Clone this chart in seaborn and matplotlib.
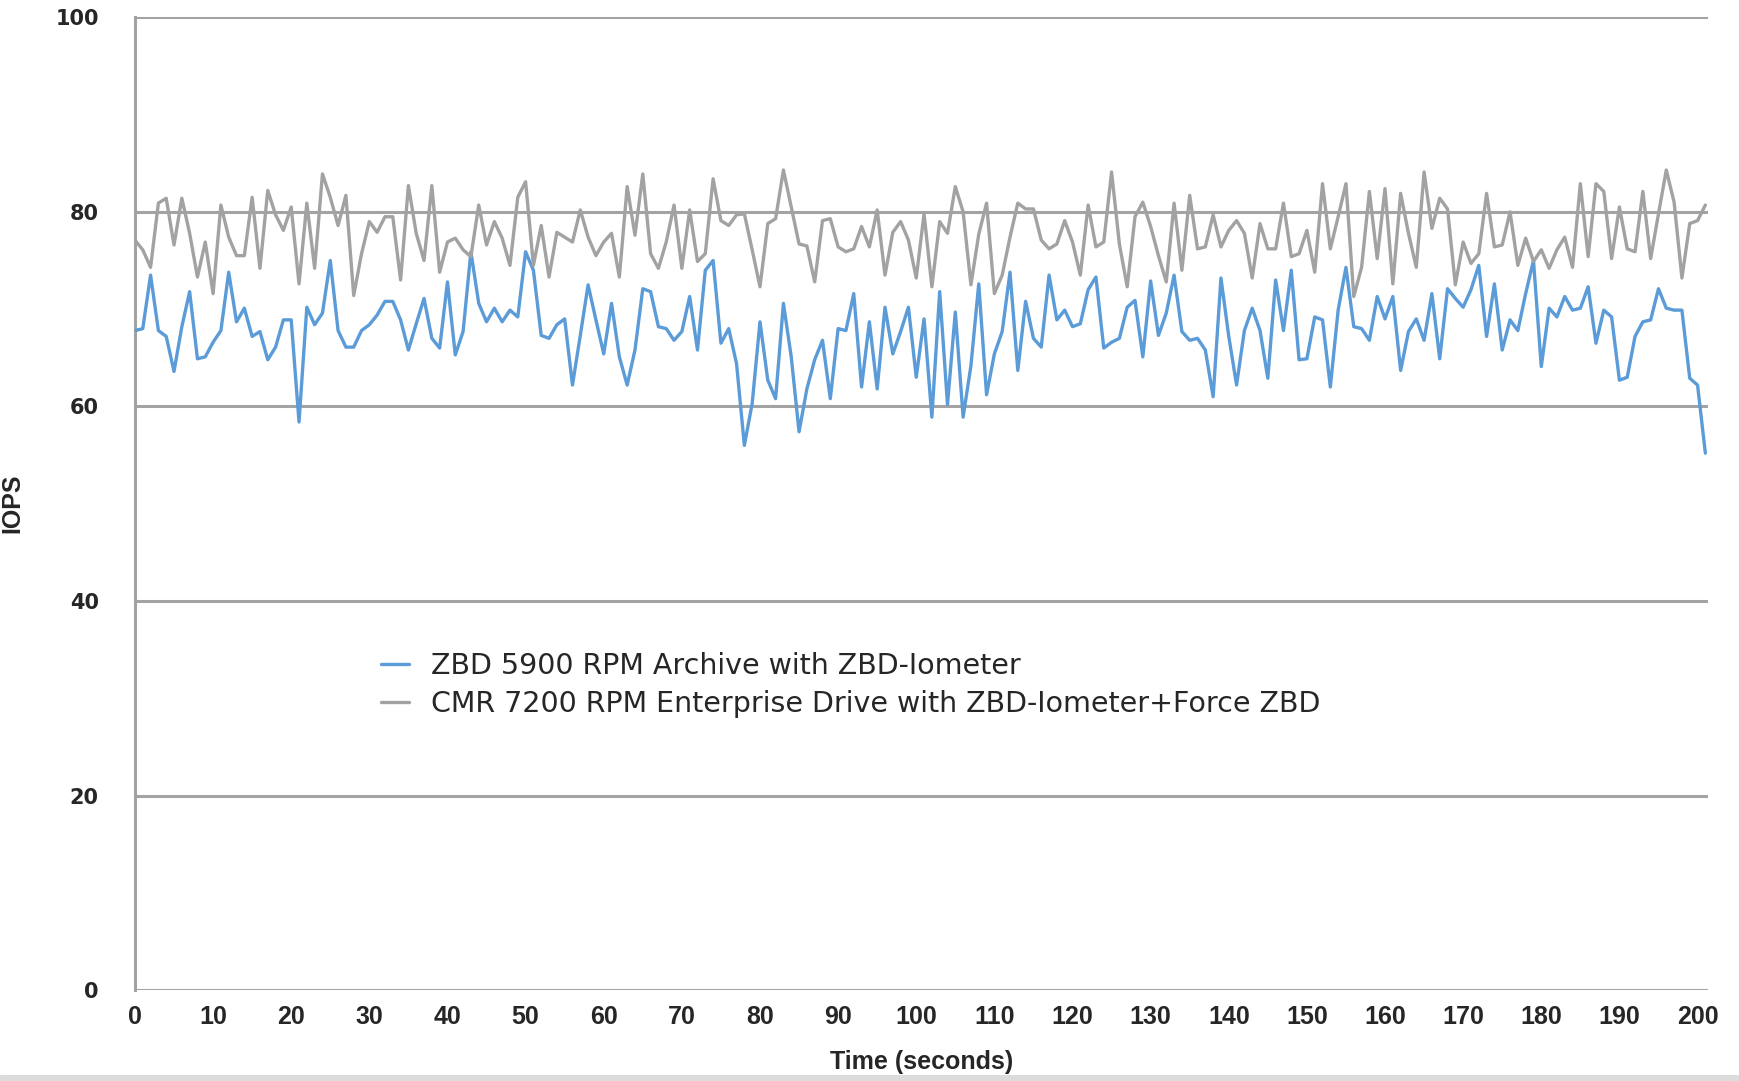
import numpy as np
import pandas as pd
import matplotlib
matplotlib.use("Agg")
import matplotlib.pyplot as plt
import seaborn as sns

# IOPS per second (t = 0 .. 201 s)
zbd_archive = [
    67.8, 68.0, 73.5, 67.8, 67.2, 63.6, 68.2, 71.8, 64.9, 65.1, 66.6, 67.8, 73.8, 68.7, 70.1, 67.2,
    67.7, 64.8, 66.1, 68.9, 68.9, 58.4, 70.2, 68.4, 69.6, 75.0, 67.8, 66.1, 66.1, 67.8, 68.4, 69.4,
    70.8, 70.8, 68.9, 65.8, 68.5, 71.1, 67.0, 66.0, 72.8, 65.3, 67.7, 75.9, 70.6, 68.7, 70.1, 68.7,
    69.9, 69.2, 75.9, 74.0, 67.3, 67.0, 68.4, 69.0, 62.2, 67.3, 72.5, 68.9, 65.4, 70.6, 65.1, 62.2,
    65.8, 72.1, 71.8, 68.2, 68.0, 66.8, 67.7, 71.3, 65.8, 74.0, 75.0, 66.5, 68.0, 64.4, 56.0, 60.3,
    68.7, 62.7, 60.8, 70.6, 65.1, 57.4, 61.8, 64.8, 66.8, 60.8, 68.0, 67.8, 71.6, 62.0, 68.7, 61.8,
    70.2, 65.4, 67.7, 70.2, 63.0, 69.0, 58.9, 71.8, 60.2, 69.7, 58.9, 64.2, 72.6, 61.2, 65.4, 67.7,
    73.8, 63.7, 70.8, 67.0, 66.1, 73.5, 68.9, 69.9, 68.2, 68.5, 72.0, 73.3, 66.0, 66.6, 67.0, 70.2,
    70.9, 65.1, 72.9, 67.3, 69.6, 73.5, 67.7, 66.8, 67.0, 65.8, 61.0, 73.2, 67.2, 62.2, 67.8, 70.1,
    67.8, 62.9, 73.0, 67.8, 74.0, 64.8, 64.9, 69.2, 68.9, 62.0, 69.9, 74.3, 68.2, 68.0, 66.8, 71.3,
    69.0, 71.3, 63.7, 67.7, 69.0, 66.8, 71.6, 64.9, 72.1, 71.1, 70.2, 72.0, 74.5, 67.2, 72.6, 65.8,
    68.9, 67.8, 71.6, 75.0, 64.1, 70.1, 69.2, 71.3, 69.9, 70.1, 72.3, 66.5, 69.9, 69.2, 62.7, 63.0,
    67.2, 68.7, 68.9, 72.1, 70.1, 69.9, 69.9, 62.9, 62.2, 55.2,
]

cmr_enterprise = [
    77.1, 76.1, 74.3, 80.9, 81.4, 76.6, 81.4, 77.8, 73.3, 76.9, 71.6, 80.7, 77.4, 75.5, 75.5, 81.5,
    74.2, 82.2, 79.7, 78.1, 80.5, 72.6, 80.9, 74.2, 83.9, 81.5, 78.6, 81.7, 71.4, 75.7, 79.0, 77.9,
    79.5, 79.5, 73.0, 82.7, 77.8, 75.0, 82.7, 73.8, 76.9, 77.3, 76.1, 75.4, 80.7, 76.6, 79.0, 77.3,
    74.5, 81.5, 83.1, 74.5, 78.6, 73.3, 77.9, 77.4, 76.9, 80.2, 77.4, 75.5, 76.9, 77.8, 73.3, 82.6,
    77.6, 83.9, 75.7, 74.2, 76.9, 80.7, 74.2, 80.2, 74.9, 75.7, 83.4, 79.1, 78.6, 79.7, 79.8, 76.1,
    72.3, 78.8, 79.3, 84.3, 80.5, 76.7, 76.5, 72.8, 79.1, 79.3, 76.4, 75.9, 76.2, 78.5, 76.4, 80.2,
    73.5, 77.9, 79.0, 77.1, 73.2, 79.8, 72.3, 79.0, 77.8, 82.6, 80.0, 72.5, 77.7, 80.9, 71.6, 73.5,
    77.4, 80.9, 80.3, 80.3, 77.1, 76.2, 76.7, 79.1, 76.9, 73.5, 80.7, 76.4, 76.9, 84.1, 76.7, 72.3,
    79.5, 81.0, 78.5, 75.5, 72.8, 80.9, 74.0, 81.7, 76.2, 76.4, 79.7, 76.4, 78.1, 79.1, 77.8, 73.2,
    78.8, 76.2, 76.2, 80.9, 75.4, 75.7, 78.1, 73.8, 82.9, 76.2, 79.5, 82.9, 71.3, 74.3, 82.1, 75.2,
    82.4, 72.6, 81.9, 77.8, 74.3, 84.1, 78.3, 81.4, 80.3, 72.5, 76.9, 74.7, 75.7, 81.9, 76.4, 76.6,
    80.0, 74.5, 77.3, 74.9, 76.1, 74.2, 76.1, 77.4, 74.3, 82.9, 75.4, 82.9, 82.1, 75.2, 80.5, 76.2,
    75.9, 82.1, 75.2, 79.8, 84.3, 81.0, 73.2, 78.8, 79.1, 80.7,
]

time_s = list(range(len(zbd_archive)))
series_names = [
    "ZBD 5900 RPM Archive with ZBD-Iometer",
    "CMR 7200 RPM Enterprise Drive with ZBD-Iometer+Force ZBD",
]
y_ticks = [0, 20, 40, 60, 80, 100]
x_ticks = list(range(0, 201, 10))

df = pd.concat([
    pd.DataFrame({"time": time_s, "iops": zbd_archive, "series": series_names[0]}),
    pd.DataFrame({"time": time_s, "iops": cmr_enterprise, "series": series_names[1]}),
])

sns.set_style("white")
plt.rcParams["font.family"] = ["DejaVu Sans"]

fig = plt.figure(figsize=(17.39, 10.81), dpi=100)
ax = fig.add_axes([0.0776, 0.084, 0.9044, 0.9])

grid_color = "#a3a3a3"
for y in y_ticks:
    ax.axhline(y, color=grid_color, linewidth=2.2, zorder=1)

sns.lineplot(
    data=df, x="time", y="iops", hue="series",
    palette=["#5b9bd8", "#a2a2a2"], linewidth=2.4, ax=ax, zorder=3,
)

ax.set_xlim(0, 201.3)
ax.set_ylim(0, 100)
ax.set_yticks(y_ticks)
ax.set_xticks(x_ticks)

arial = ["Liberation Sans", "DejaVu Sans"]
ax.set_yticklabels([str(v) for v in y_ticks], fontsize=15, fontweight="bold")
ax.set_xticklabels([str(v) for v in x_ticks], fontsize=18, fontweight="bold", family=arial)
ax.tick_params(axis="y", length=0, pad=26)
ax.tick_params(axis="x", length=0, pad=11)

ax.set_xlabel("Time (seconds)", fontsize=18, fontweight="bold", family=arial, labelpad=15)
ax.set_ylabel("IOPS", fontsize=18, fontweight="bold", family=arial)
ax.yaxis.set_label_coords(-0.0706, 0.5)

for side in ["top", "right", "bottom"]:
    ax.spines[side].set_visible(False)
ax.spines["left"].set_color(grid_color)
ax.spines["left"].set_linewidth(2.2)

ax.legend(
    loc="upper left", bbox_to_anchor=(0.14, 0.374), frameon=False,
    fontsize=20.5, handlelength=1.0, handletextpad=0.75, labelspacing=0.36,
)

# thin separator line at the very bottom of the image
fig.add_artist(plt.Line2D([0, 1], [0.003, 0.003], color="#dcdcdc", linewidth=5,
                          transform=fig.transFigure))

fig.savefig("out.png", dpi=100)
